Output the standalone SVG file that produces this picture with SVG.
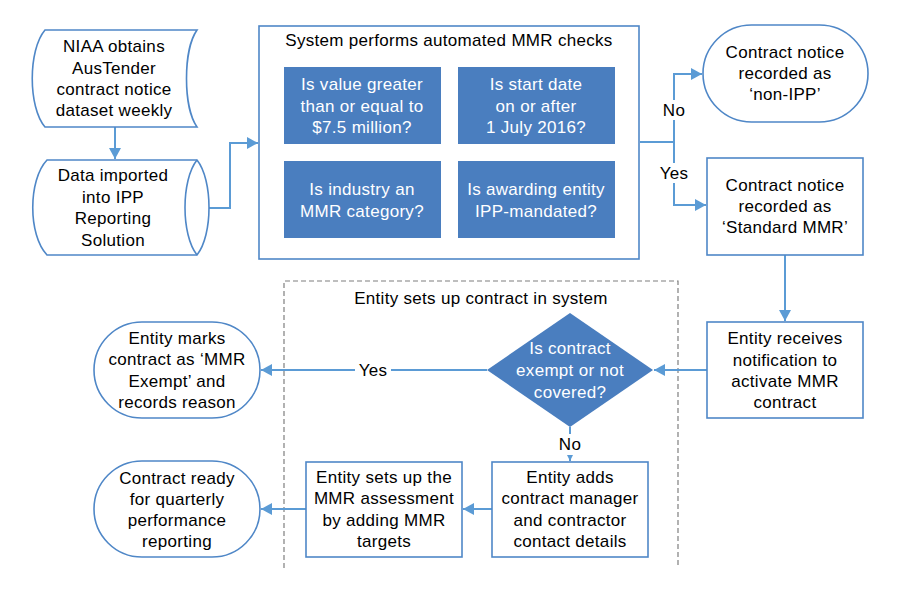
<svg xmlns="http://www.w3.org/2000/svg" width="899" height="594" viewBox="0 0 899 594">
<style>
  .node { fill: #ffffff; stroke: #4F87C7; stroke-width: 1.6; }
  .dark { fill: #4A7EBF; stroke: none; }
  .conn { fill: none; stroke: #5B9BD5; stroke-width: 2; }
  .t { font-family: "Liberation Sans", Arial, sans-serif; font-size: 17px; letter-spacing: 0.3px; fill: #000000; text-anchor: middle; }
  .w { fill: #ffffff; }
  .dash { fill: none; stroke: #7F7F7F; stroke-width: 1.2; stroke-dasharray: 5 3; }
</style>
<defs>
  <marker id="arr" markerUnits="userSpaceOnUse" markerWidth="12" markerHeight="12" refX="11" refY="6" orient="auto">
    <path d="M0,0 L11,6 L0,12 Z" fill="#5B9BD5"/>
  </marker>
  <marker id="arrs" markerUnits="userSpaceOnUse" markerWidth="8" markerHeight="8" refX="6" refY="4" orient="auto">
    <path d="M0,1 L6,4 L0,7 Z" fill="#5B9BD5"/>
  </marker>
</defs>
<rect width="899" height="594" fill="#ffffff"/>

<g id="container-entity">
  <path class="dash" d="M284,568 V281 H678 V568"/>
  <text class="t" x="481" y="304">Entity sets up contract in system</text>
</g>

<g id="connectors">
  <path class="conn" d="M115,127 V159" marker-end="url(#arr)"/>
  <path class="conn" d="M209,208 H230 V143 H258" marker-end="url(#arr)"/>
  <path class="conn" d="M640,142 H674 V74 H702" marker-end="url(#arr)"/>
  <path class="conn" d="M674,142 V205 H706" marker-end="url(#arr)"/>
  <path class="conn" d="M785,255 V321" marker-end="url(#arr)"/>
  <path class="conn" d="M707,370 H654" marker-end="url(#arr)"/>
  <path class="conn" d="M487,370 H261" marker-end="url(#arr)"/>
  <path class="conn" d="M570,427 V434"/>
  <path class="conn" d="M570,455 V461" marker-end="url(#arrs)"/>
  <path class="conn" d="M492,509 H463" marker-end="url(#arr)"/>
  <path class="conn" d="M306,509 H261" marker-end="url(#arr)"/>
  <rect x="660" y="100" width="28" height="20" fill="#ffffff"/>
  <text class="t" x="674" y="116">No</text>
  <rect x="656" y="163" width="36" height="20" fill="#ffffff"/>
  <text class="t" x="674" y="179">Yes</text>
  <rect x="355" y="360" width="36" height="20" fill="#ffffff"/>
  <text class="t" x="373" y="376">Yes</text>
  <text class="t" x="570" y="450">No</text>
</g>

<g id="niaa-obtains">
  <path class="node" d="M45,30 H197 C183,50 183,107 197,127 H45 C28,107 28,50 45,30 Z"/>
  <text class="t" x="114" y="52">NIAA obtains</text>
  <text class="t" x="114" y="74">AusTender</text>
  <text class="t" x="114" y="95">contract notice</text>
  <text class="t" x="114" y="116">dataset weekly</text>
</g>

<g id="data-imported">
  <path class="node" d="M47,160 H197 C213,180 213,235 197,255 H47 C28,235 28,180 47,160 Z"/>
  <path class="node" fill="none" d="M197,160 C181,180 181,235 197,255"/>
  <text class="t" x="113" y="181">Data imported</text>
  <text class="t" x="113" y="203">into IPP</text>
  <text class="t" x="113" y="224">Reporting</text>
  <text class="t" x="113" y="246">Solution</text>
</g>

<g id="mmr-checks">
  <rect class="node" x="259" y="26" width="380" height="233"/>
  <text class="t" x="449" y="46">System performs automated MMR checks</text>
</g>

<g id="check-value">
  <rect class="dark" x="284" y="67" width="157" height="77"/>
  <text class="t w" x="362" y="90">Is value greater</text>
  <text class="t w" x="362" y="112">than or equal to</text>
  <text class="t w" x="362" y="133">$7.5 million?</text>
</g>

<g id="check-date">
  <rect class="dark" x="458" y="67" width="157" height="77"/>
  <text class="t w" x="536" y="90">Is start date</text>
  <text class="t w" x="536" y="112">on or after</text>
  <text class="t w" x="536" y="133">1 July 2016?</text>
</g>

<g id="check-industry">
  <rect class="dark" x="284" y="161" width="157" height="77"/>
  <text class="t w" x="362" y="195">Is industry an</text>
  <text class="t w" x="362" y="217">MMR category?</text>
</g>

<g id="check-entity">
  <rect class="dark" x="458" y="161" width="157" height="77"/>
  <text class="t w" x="536" y="195">Is awarding entity</text>
  <text class="t w" x="536" y="217">IPP-mandated?</text>
</g>

<g id="non-ipp">
  <rect class="node" x="703" y="25" width="165" height="97" rx="48.5" ry="48.5"/>
  <text class="t" x="785" y="58">Contract notice</text>
  <text class="t" x="785" y="79">recorded as</text>
  <text class="t" x="785" y="100">‘non-IPP’</text>
</g>

<g id="standard-mmr">
  <rect class="node" x="707" y="158" width="156" height="97"/>
  <text class="t" x="785" y="191">Contract notice</text>
  <text class="t" x="785" y="212">recorded as</text>
  <text class="t" x="785" y="233">‘Standard MMR’</text>
</g>

<g id="entity-receives">
  <rect class="node" x="707" y="322" width="156" height="96"/>
  <text class="t" x="785" y="344">Entity receives</text>
  <text class="t" x="785" y="366">notification to</text>
  <text class="t" x="785" y="387">activate MMR</text>
  <text class="t" x="785" y="408">contract</text>
</g>

<g id="exempt-decision">
  <polygon class="dark" points="570,313 653,370 570,427 487,370"/>
  <text class="t w" x="570" y="354">Is contract</text>
  <text class="t w" x="570" y="376">exempt or not</text>
  <text class="t w" x="570" y="398">covered?</text>
</g>

<g id="mmr-exempt">
  <rect class="node" x="94" y="322" width="166" height="96" rx="48" ry="48"/>
  <text class="t" x="177" y="344">Entity marks</text>
  <text class="t" x="177" y="365">contract as ‘MMR</text>
  <text class="t" x="177" y="387">Exempt’ and</text>
  <text class="t" x="177" y="408">records reason</text>
</g>

<g id="entity-adds">
  <rect class="node" x="492" y="462" width="156" height="95"/>
  <text class="t" x="570" y="483">Entity adds</text>
  <text class="t" x="570" y="504">contract manager</text>
  <text class="t" x="570" y="526">and contractor</text>
  <text class="t" x="570" y="547">contact details</text>
</g>

<g id="entity-sets-up">
  <rect class="node" x="306" y="462" width="156" height="95"/>
  <text class="t" x="384" y="483">Entity sets up the</text>
  <text class="t" x="384" y="504">MMR assessment</text>
  <text class="t" x="384" y="526">by adding MMR</text>
  <text class="t" x="384" y="547">targets</text>
</g>

<g id="contract-ready">
  <rect class="node" x="94" y="461" width="166" height="96" rx="48" ry="48"/>
  <text class="t" x="177" y="484">Contract ready</text>
  <text class="t" x="177" y="505">for quarterly</text>
  <text class="t" x="177" y="526">performance</text>
  <text class="t" x="177" y="547">reporting</text>
</g>
</svg>
